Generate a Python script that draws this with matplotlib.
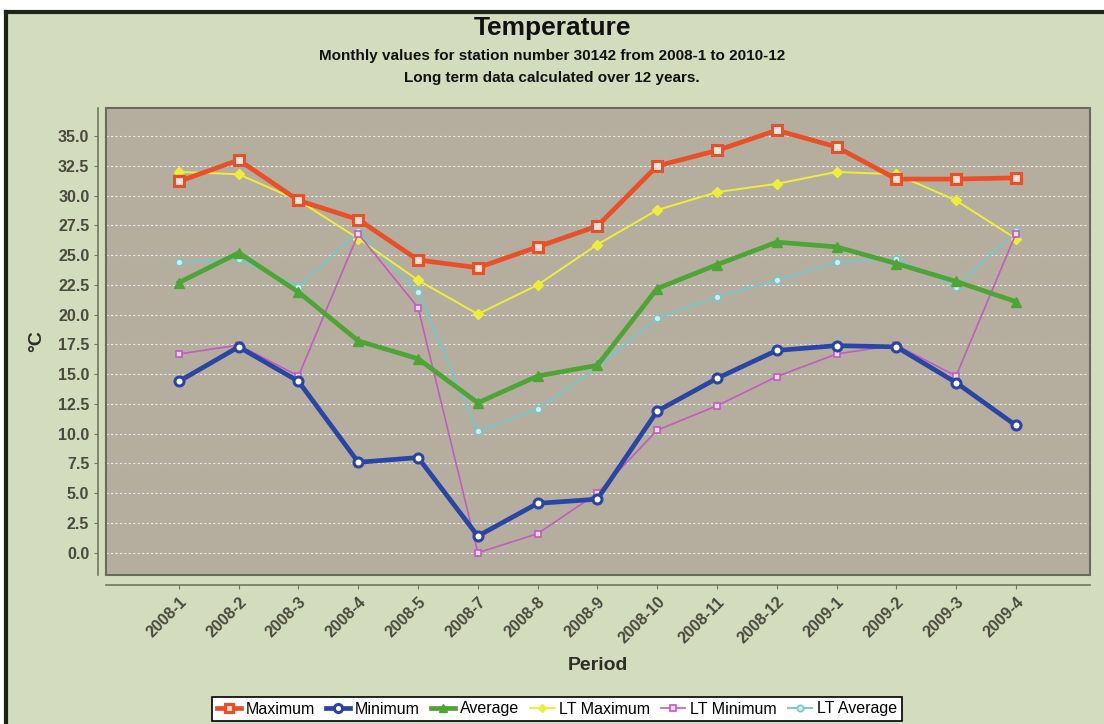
import matplotlib
matplotlib.use("Agg")
import matplotlib.pyplot as plt
from matplotlib import font_manager
from matplotlib.patches import Rectangle
from matplotlib.lines import Line2D

periods = ["2008-1", "2008-2", "2008-3", "2008-4", "2008-5", "2008-7", "2008-8",
           "2008-9", "2008-10", "2008-11", "2008-12", "2009-1", "2009-2", "2009-3", "2009-4"]
maximum = [31.2, 33.0, 29.6, 28.0, 24.6, 23.95, 25.7, 27.45, 32.5, 33.8, 35.5, 34.1, 31.4, 31.4, 31.5]
minimum = [14.4, 17.3, 14.4, 7.6, 8.0, 1.4, 4.15, 4.5, 11.9, 14.65, 17.0, 17.4, 17.3, 14.3, 10.7]
average = [22.7, 25.2, 21.9, 17.8, 16.3, 12.6, 14.85, 15.75, 22.2, 24.2, 26.1, 25.7, 24.3, 22.8, 21.1]
lt_maximum = [32.0, 31.8, 29.6, 26.4, 22.9, 20.05, 22.5, 25.9, 28.8, 30.3, 31.0, 32.0, 31.8, 29.6, 26.4]
lt_minimum = [16.7, 17.45, 14.85, 26.8, 20.6, 0.0, 1.6, 5.0, 10.3, 12.35, 14.8, 16.7, 17.45, 14.85, 26.8]
lt_average = [24.4, 24.7, 22.35, 27.0, 21.9, 10.2, 12.05, 15.6, 19.7, 21.5, 22.9, 24.4, 24.7, 22.35, 27.0]
y_ticks = [0.0, 2.5, 5.0, 7.5, 10.0, 12.5, 15.0, 17.5, 20.0, 22.5, 25.0, 27.5, 30.0, 32.5, 35.0]

title = "Temperature"
subtitle1 = "Monthly values for station number 30142 from 2008-1 to 2010-12"
subtitle2 = "Long term data calculated over 12 years."

available = {f.name for f in font_manager.fontManager.ttflist}
narrow = "Liberation Sans Narrow" if "Liberation Sans Narrow" in available else "Liberation Sans"
plt.rcParams["font.family"] = [narrow, "DejaVu Sans"]

W, H = 1104, 724
fig = plt.figure(figsize=(W / 100, H / 100), dpi=100)
fig.patch.set_facecolor("white")

# outer chart background + dark border (left/top)
bg = Rectangle((7 / W, 0), 1 - 7 / W, 1 - 12 / H, transform=fig.transFigure,
               facecolor="#d3dcbd", edgecolor="none", zorder=-10)
fig.patches.append(bg)
fig.add_artist(Line2D([6 / W, 6 / W], [0, 1 - 12 / H], transform=fig.transFigure,
                      color="#1e2418", lw=3))
fig.add_artist(Line2D([6 / W, 1], [1 - 12 / H, 1 - 12 / H], transform=fig.transFigure,
                      color="#1e2418", lw=3))

left, right, top, bottom = 106, 1090, 108, 575
ax = fig.add_axes([left / W, 1 - bottom / H, (right - left) / W, (bottom - top) / H])
ax.set_facecolor("#b5ae9f")

x = list(range(len(periods)))
c_max, c_min, c_avg = "#e8502a", "#2b45a5", "#4ea536"
c_ltmax, c_ltmin, c_ltavg = "#eeee3a", "#c25cc0", "#78c6c8"

ax.plot(x, lt_average, color=c_ltavg, lw=1.4, marker="o", ms=5, mfc="#d4ecee",
        mec=c_ltavg, mew=1.2, label="LT Average", zorder=3)
ax.plot(x, lt_maximum, color=c_ltmax, lw=1.4, marker="D", ms=5, mfc=c_ltmax,
        mec=c_ltmax, label="LT Maximum", zorder=3)
ax.plot(x, lt_minimum, color=c_ltmin, lw=1.2, marker="s", ms=4.5, mfc="#f2d8ef",
        mec=c_ltmin, mew=1.2, label="LT Minimum", zorder=3)
ax.plot(x, average, color=c_avg, lw=3.4, marker="^", ms=6.5, mfc=c_avg,
        mec=c_avg, label="Average", zorder=4)
ax.plot(x, minimum, color=c_min, lw=3.4, marker="o", ms=6.5, mfc="white",
        mec=c_min, mew=2.2, label="Minimum", zorder=5)
ax.plot(x, maximum, color=c_max, lw=3.4, marker="s", ms=6.5, mfc="#f8e0d8",
        mec=c_max, mew=2.2, label="Maximum", zorder=5)

ax.set_xlim(-1.22, len(periods) - 1 + 1.24)
ax.set_ylim(-1.87, 37.37)
ax.set_yticks(y_ticks)
ax.set_yticklabels([f"{v:.1f}" for v in y_ticks])
ax.set_xticks(x)
ax.set_xticklabels(periods)

ax.grid(axis="y", color="#e8e8e8", ls=(0, (2, 2)), lw=0.8)
ax.grid(axis="x", visible=False)
ax.set_axisbelow(True)

for s in ["top", "right"]:
    ax.spines[s].set_visible(False)
ax.spines["left"].set_position(("outward", 6))
ax.spines["bottom"].set_position(("outward", 7))
ax.spines["left"].set_color("#707860")
ax.spines["bottom"].set_color("#707860")
ax.spines["left"].set_linewidth(1.2)
ax.spines["bottom"].set_linewidth(1.2)
ax.add_patch(Rectangle((0, 0), 1, 1, transform=ax.transAxes, fill=False,
                       edgecolor="#6a6a5a", lw=1.5, zorder=6, clip_on=False))

ax.tick_params(axis="y", length=3, color="#707860", labelsize=11.5,
               labelcolor="#4a4a3e", pad=3)
ax.tick_params(axis="x", length=3, color="#707860", labelsize=11.5,
               labelcolor="#4a4a3e", pad=4)
for lab in ax.get_yticklabels():
    lab.set_fontweight("bold")
for lab in ax.get_xticklabels():
    lab.set_fontweight("bold")
    lab.set_rotation(45)
    lab.set_ha("right")
    lab.set_va("top")
    lab.set_rotation_mode("anchor")

ax.set_ylabel("°C", fontsize=14, fontweight="bold", color="#2e2e26")
ax.yaxis.set_label_coords(-0.062, 0.5)
ax.set_xlabel("Period", fontsize=14, fontweight="bold", color="#2e2e26")
ax.xaxis.set_label_coords(0.5, 1 - (665 - top) / (bottom - top), transform=ax.transAxes)
ax.xaxis.label.set_va("center")

fig.text(0.5, 1 - 28 / H, title, ha="center", va="center", fontsize=19,
         fontweight="bold", color="#111111")
fig.text(0.5, 1 - 56 / H, subtitle1, ha="center", va="center", fontsize=11,
         fontweight="bold", color="#111111")
fig.text(0.5, 1 - 78 / H, subtitle2, ha="center", va="center", fontsize=11,
         fontweight="bold", color="#111111")

handles, labels = ax.get_legend_handles_labels()
order = ["Maximum", "Minimum", "Average", "LT Maximum", "LT Minimum", "LT Average"]
hmap = dict(zip(labels, handles))
leg = fig.legend([hmap[o] for o in order], order, loc="center",
                 bbox_to_anchor=(557 / W, 1 - 709 / H), ncol=6, frameon=True,
                 fancybox=False, edgecolor="black", facecolor="white", framealpha=1,
                 fontsize=11.5, handlelength=1.5, handletextpad=0.3, columnspacing=0.7,
                 borderpad=0.3, markerscale=0.9)
leg.get_frame().set_linewidth(1.2)

fig.savefig("out.png", dpi=100, facecolor=fig.get_facecolor())
